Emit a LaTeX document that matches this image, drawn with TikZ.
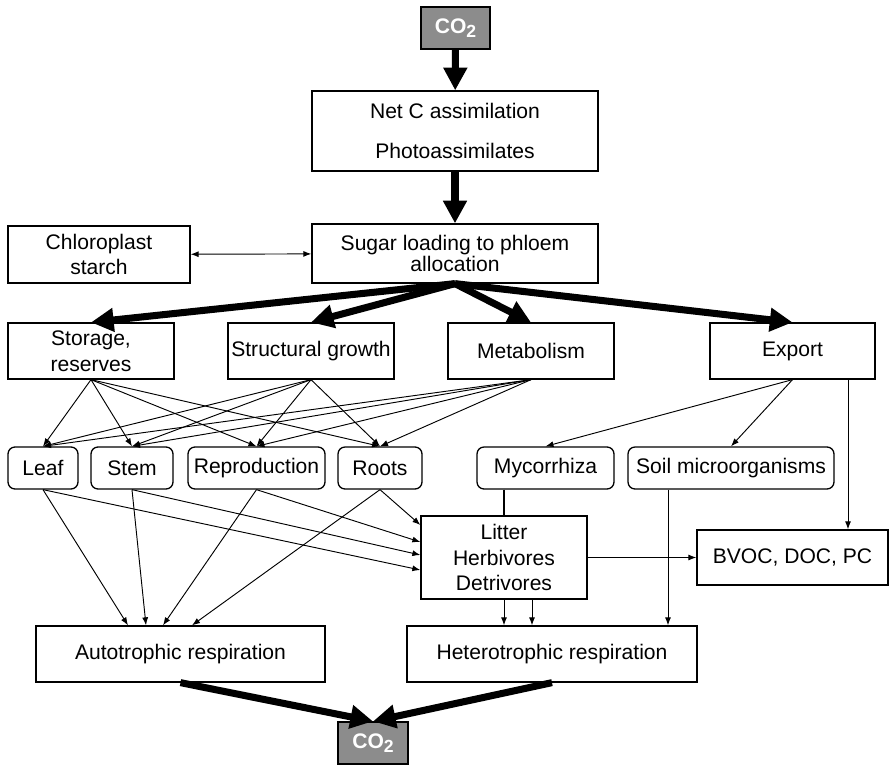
\documentclass[tikz,border=0pt]{standalone}
\usepackage{fontspec}
\setmainfont{Liberation Sans}
\usetikzlibrary{arrows.meta,positioning}

\begin{document}
\begin{tikzpicture}[x=0.03cm,y=-0.03cm,>={Latex[length=2.4mm,width=1.8mm]},
    font=\fontsize{18}{22}\selectfont,
    box/.style={draw,line width=1.1pt,inner sep=0pt,align=center,minimum height=1.68cm},
    rbox/.style={box,rounded corners=6pt,minimum height=1.26cm},
    gas/.style={draw,line width=1.1pt,fill=black!45,text=white,font=\fontsize{18}{22}\selectfont\bfseries,
                inner sep=0pt,minimum width=2.07cm,minimum height=1.26cm},
    flow/.style={line width=6pt,-{Triangle[length=0.68cm,width=0.68cm]}},
    link/.style={line width=0.8pt,->}]

    \useasboundingbox (0,0) rectangle (889,765);

    % carbon input and allocation
    \node[gas] (co2in) at (455.5,28) {CO\raisebox{-3pt}{\fontsize{15}{15}\selectfont 2}};
    \node[box,minimum width=8.58cm,minimum height=2.4cm] (netc) at (455,131)
        {Net C assimilation\\[0.4cm] Photoassimilates};
    \node[box,minimum width=8.58cm,minimum height=1.77cm] (sugar) at (455,253.5)
        {Sugar loading to phloem\\[-4pt] allocation};
    \node[box,minimum width=5.46cm,minimum height=1.71cm] (chloro) at (99,254.5)
        {Chloroplast\\ starch};

    % sinks
    \node[box,minimum width=4.98cm] (storage) at (91,351) {Storage,\\ reserves};
    \node[box,minimum width=4.98cm] (struct) at (311,351) {Structural growth};
    \node[box,minimum width=4.98cm] (metab) at (531,351) {Metabolism};
    \node[box,minimum width=4.95cm] (export) at (792.5,351) {Export};

    % organs and partners
    \node[rbox,minimum width=2.1cm] (leaf) at (43,468) {Leaf};
    \node[rbox,minimum width=2.46cm] (stem) at (132,468) {Stem};
    \node[rbox,minimum width=4.11cm] (repro) at (256.5,468) {Reproduction};
    \node[rbox,minimum width=2.52cm] (roots) at (380,468) {Roots};
    \node[rbox,minimum width=4.11cm] (myco) at (545.5,468) {Mycorrhiza};
    \node[rbox,minimum width=6.18cm] (soil) at (731,468) {Soil microorganisms};

    \node[box,minimum width=4.98cm,minimum height=2.49cm] (litter) at (504,557.5)
        {Litter\\ Herbivores\\ Detrivores};
    \node[box,minimum width=5.73cm,minimum height=1.65cm] (bvoc) at (792.5,557.5) {BVOC, DOC, PC};

    % respiration and output
    \node[box,minimum width=8.67cm] (auto) at (180.5,654) {Autotrophic respiration};
    \node[box,minimum width=8.7cm] (hetero) at (552,654) {Heterotrophic respiration};
    \node[gas,minimum width=2.1cm] (co2out) at (373,743) {CO\raisebox{-3pt}{\fontsize{15}{15}\selectfont 2}};

    % main fluxes
    \draw[flow] (co2in) -- (netc);
    \draw[flow] (netc) -- (sugar);
    \foreach \to in {storage, struct, metab, export}
        \draw[flow] (sugar.south) -- (\to.north);
    \draw[flow] (auto.south) -- (co2out.north);
    \draw[flow] (hetero.south) -- (co2out.north);

    \draw[line width=0.8pt,<->] (chloro) -- (sugar);

    % sinks to organs
    \foreach \from in {storage, struct, metab}
        \foreach \to in {leaf, stem, repro, roots}
            \draw[link] (\from.south) -- (\to.north);

    \draw[link] (export.south) -- (myco.north);
    \draw[link] (export.south) -- (soil.north);
    \draw[link] ([xshift=1.665cm]export.south) -- ([xshift=1.665cm]bvoc.north);

    % organs to respiration and litter
    \foreach \from/\dx in {leaf/-1.575, stem/-1.035, repro/-0.525, roots/0.345}
        \draw[link] (\from.south) -- ([xshift=\dx cm]auto.north);
    \foreach \from/\dy in {leaf/-0.375, stem/0.075, repro/0.465, roots/0.975}
        \draw[link] (\from.south) -- ([yshift=\dy cm]litter.west);

    \draw[line width=1.1pt] (litter.north |- myco.south) -- (litter.north);
    \draw[link] (litter.south) -- (litter.south |- hetero.north);
    \draw[link] ([xshift=0.84cm]litter.south) -- ([xshift=0.84cm]litter.south |- hetero.north);
    \draw[link] ([xshift=-1.89cm]soil.south) -- ([xshift=-1.89cm]soil.south |- hetero.north);
    \draw[link] (litter.east) -- (bvoc.west);

\end{tikzpicture}
\end{document}
